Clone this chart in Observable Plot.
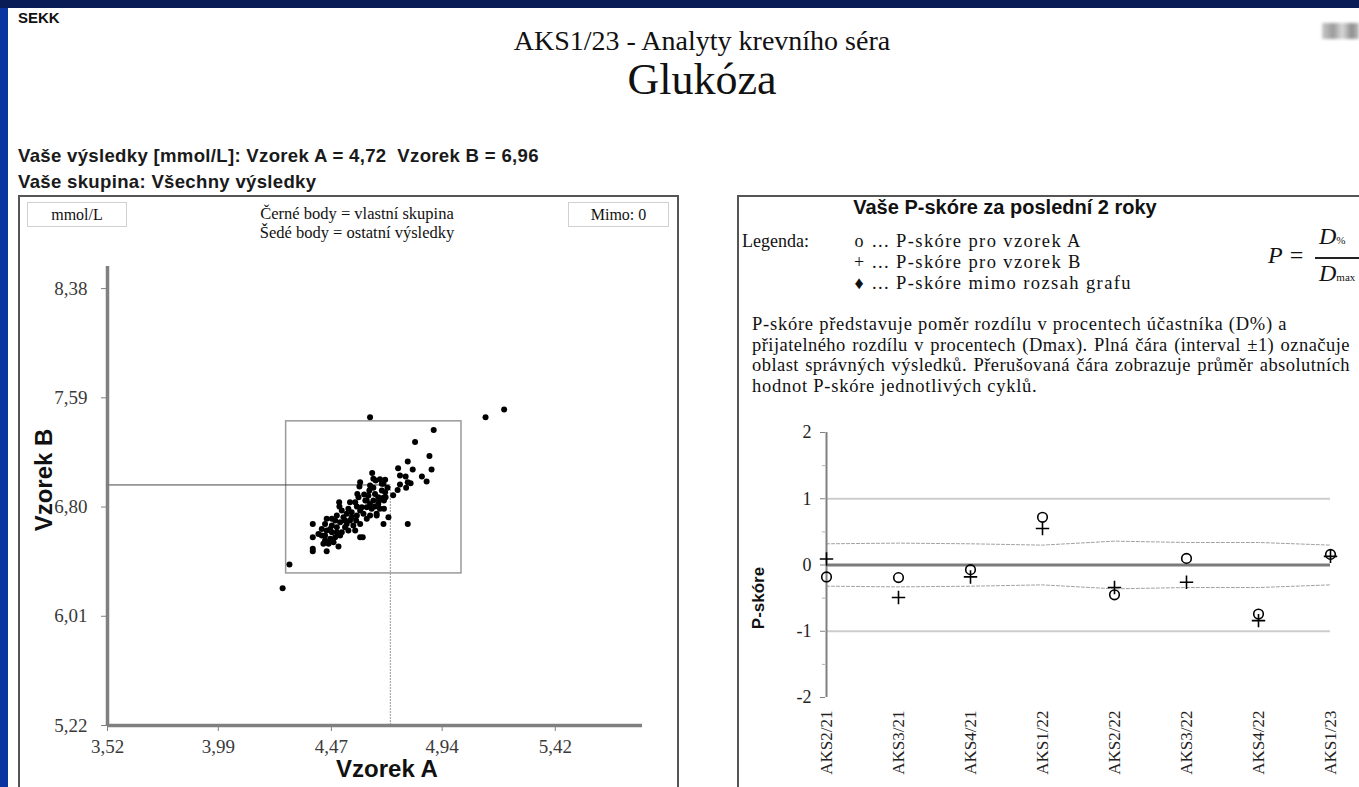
<!DOCTYPE html>
<html>
<head>
<meta charset="utf-8">
<script src="https://cdn.jsdelivr.net/npm/d3@7"></script>
<script src="https://cdn.jsdelivr.net/npm/@observablehq/plot@0.6"></script>
<style>
  html, body { margin:0; padding:0; background:#fff; }
  #page { position:relative; width:1359px; height:787px; overflow:hidden; background:#fff; color:#111; }
  .abs { position:absolute; white-space:pre; }
  .serif { font-family:"Liberation Serif","Times New Roman",serif; }
  .sans { font-family:"Liberation Sans",Arial,sans-serif; }
  .box { position:absolute; box-sizing:border-box; }
  .rp { font-size:18.5px; letter-spacing:0.75px; line-height:20.7px; }
  .jl { display:flex; justify-content:space-between; width:598px; letter-spacing:0.45px; }
  .jl span { white-space:nowrap; flex:none; }
  .lg { font-size:18.5px; letter-spacing:1.4px; line-height:21px; }
</style>
</head>
<body>
<div id="page">
  <div class="box" style="left:0;top:0;width:1359px;height:8px;background:#0a1c55;"></div>
  <div class="box" style="left:0;top:8px;width:8px;height:779px;background:#0b34a3;"></div>

  <div class="abs sans" style="left:18px;top:9px;font-size:15px;font-weight:bold;">SEKK</div>
  <div class="abs serif" style="left:0;width:1404px;top:25px;font-size:28px;text-align:center;">AKS1/23 - Analyty krevního séra</div>
  <div class="abs serif" style="left:0;width:1404px;top:54px;font-size:44px;text-align:center;">Glukóza</div>
  <div class="box" style="left:1322px;top:23px;width:37px;height:16px;background:linear-gradient(90deg,#c9c9c9,#9a9a9a 30%,#d8d8d8 55%,#8e8e8e 80%,#bdbdbd);filter:blur(1.5px);"></div>

  <div class="abs sans" id="res" style="left:18px;top:145px;font-size:18.6px;font-weight:bold;letter-spacing:0.3px;color:#1a1a1a;"></div>
  <div class="abs sans" id="grp" style="left:18px;top:171px;font-size:18.6px;font-weight:bold;letter-spacing:0.3px;color:#1a1a1a;"></div>

  <!-- left panel -->
  <div class="box" style="left:18px;top:195px;width:661px;height:620px;border:2px solid #555;"></div>
  <div class="box serif" style="left:27px;top:202px;width:100px;height:25px;border:1px solid #d0d0d0;font-size:16px;text-align:center;line-height:23px;">mmol/L</div>
  <div class="box serif" id="mimo" style="left:568px;top:202px;width:101px;height:25px;border:1px solid #d0d0d0;font-size:16px;text-align:center;line-height:23px;"></div>
  <div class="abs serif" style="left:225px;width:264px;top:204px;font-size:16.5px;text-align:center;line-height:19px;">Černé body = vlastní skupina
Šedé body = ostatní výsledky</div>
  <div id="scatter" class="box" style="left:20px;top:250px;"></div>
  <div class="abs sans" style="left:-16px;top:466px;width:120px;text-align:center;font-size:24px;font-weight:bold;transform:rotate(-90deg);">Vzorek B</div>
  <div class="abs sans" style="left:317px;top:755px;width:140px;text-align:center;font-size:24px;font-weight:bold;">Vzorek A</div>

  <!-- right panel -->
  <div class="box" style="left:737px;top:195px;width:660px;height:620px;border:2px solid #555;"></div>
  <div class="abs sans" style="left:737px;width:536px;top:196px;font-size:20px;font-weight:bold;text-align:center;">Vaše P-skóre za poslední 2 roky</div>
  <div class="abs serif" style="left:742px;top:231px;font-size:18px;line-height:21px;">Legenda:</div>
  <div class="abs serif" style="left:850px;top:231px;width:18px;text-align:center;font-size:18px;line-height:21px;">o
+
♦</div>
  <div class="abs serif lg" style="left:872px;top:231px;">... P-skóre pro vzorek A
... P-skóre pro vzorek B
... P-skóre mimo rozsah grafu</div>
  <div class="abs serif" style="left:1268px;top:242px;font-size:24px;font-style:italic;">P =</div>
  <div class="abs serif" style="left:1319px;top:223px;font-size:24px;font-style:italic;">D<span style="font-size:11px;font-style:normal;">%</span></div>
  <div class="box" style="left:1315px;top:257px;width:50px;height:1.5px;background:#222;"></div>
  <div class="abs serif" style="left:1319px;top:260px;font-size:24px;font-style:italic;">D<span style="font-size:11px;font-style:normal;">max</span></div>

  <div class="abs serif rp" style="left:752px;top:314px;">P-skóre představuje poměr rozdílu v procentech účastníka (D%) a</div>
  <div class="abs serif rp jl" id="pl2" style="left:752px;top:334.7px;"></div>
  <div class="abs serif rp jl" id="pl3" style="left:752px;top:355.4px;"></div>
  <div class="abs serif rp" style="left:752px;top:376.1px;">hodnot P-skóre jednotlivých cyklů.</div>

  <div id="pscore" class="box" style="left:740px;top:420px;"></div>
  <div class="abs sans" style="left:709px;top:588px;width:100px;text-align:center;font-size:17px;font-weight:bold;transform:rotate(-90deg);">P-skóre</div>
</div>

<script>
// ---------- data ----------
const ownA = 4.72;
const ownB = 6.96;
const outsideCount = 0;

const xTickValues = [3.52, 3.99, 4.47, 4.94, 5.42];
const yTickValues = [5.22, 6.01, 6.80, 7.59, 8.38];
const xDomain = [3.52, 5.79];
const yDomain = [5.22, 8.54];

// acceptable range rectangle (Vzorek A, Vzorek B)
const boxA = [4.278, 5.022];
const boxB = [6.32, 7.42];

// group results: Vzorek A values and Vzorek B values (paired)
const sampleA = [4.634,5.124,5.203,4.292,4.263,4.904,4.825,4.886,4.794,4.895,4.815,4.753,4.854,4.874,4.761,4.785,4.794,4.806,4.761,4.787,
4.751,4.732,4.794,4.643,4.658,4.676,4.698,4.592,4.589,4.634,4.648,4.691,4.708,4.684,4.698,4.669,4.688,4.700,4.580,4.585,
4.627,4.648,4.614,4.549,4.571,4.503,4.504,4.620,4.641,4.676,4.693,4.712,4.691,4.592,4.606,4.578,4.556,4.535,4.514,4.493,
4.472,4.450,4.443,4.472,4.507,4.528,4.549,4.575,4.592,4.620,4.634,4.662,4.391,4.391,4.391,4.391,4.429,4.450,4.472,4.493,
4.507,4.486,4.465,4.443,4.436,4.458,4.479,4.500,4.450,4.542,4.571,4.592,4.603,4.528,4.493,4.415,4.429,4.662,4.655,4.672,
4.631,4.609,4.542,4.521,4.563,4.620,4.655,4.684,4.486,4.465,4.514,4.535,4.599,4.634,4.669,4.693,4.648,4.578,4.556,4.443];
const sampleB = [7.450,7.450,7.505,6.384,6.213,7.358,7.271,7.170,7.129,7.071,7.071,7.081,7.021,6.984,7.028,7.021,6.980,6.972,6.963,6.939,
6.924,6.886,6.678,7.047,6.992,7.001,6.997,6.980,6.948,6.956,6.939,6.968,6.939,6.919,6.907,6.871,6.866,6.871,6.895,6.871,
6.883,6.847,6.847,6.835,6.835,6.835,6.804,6.799,6.787,6.787,6.787,6.727,6.678,6.775,6.751,6.739,6.763,6.751,6.775,6.739,
6.715,6.715,6.678,6.666,6.690,6.703,6.703,6.703,6.678,6.715,6.739,6.751,6.678,6.582,6.498,6.481,6.642,6.630,6.618,6.618,
6.594,6.582,6.570,6.558,6.534,6.534,6.546,6.515,6.481,6.630,6.630,6.582,6.582,6.654,6.654,6.606,6.594,6.739,6.804,6.847,
6.919,6.890,6.787,6.727,6.666,6.847,6.895,6.968,6.703,6.642,6.618,6.678,6.799,6.823,6.823,6.847,7.004,6.804,6.727,6.594];

// P-score history
const cycles = ["AKS2/21","AKS3/21","AKS4/21","AKS1/22","AKS2/22","AKS3/22","AKS4/22","AKS1/23"];
const pScoreA = [-0.18, -0.19, -0.07, 0.72, -0.45, 0.10, -0.74, 0.16];
const pScoreB = [0.09, -0.49, -0.18, 0.55, -0.34, -0.26, -0.84, 0.13];
const meanAbsP = [0.32, 0.33, 0.32, 0.30, 0.36, 0.34, 0.34, 0.30];
const pTicks = [-2, -1, 0, 1, 2];
const pMinorTicks = [-1.5, -0.5, 0.5, 1.5];

// ---------- texts ----------
const comma = v => v.toFixed(2).replace(".", ",");
document.getElementById("res").textContent = `Vaše výsledky [mmol/L]: Vzorek A = ${comma(ownA)}  Vzorek B = ${comma(ownB)}`;
document.getElementById("grp").textContent = "Vaše skupina: Všechny výsledky";
document.getElementById("mimo").textContent = `Mimo: ${outsideCount}`;
function justifyLine(id, text) {
  const el = document.getElementById(id);
  for (const w of text.split(" ")) {
    const s = document.createElement("span");
    s.textContent = w;
    el.appendChild(s);
  }
}
justifyLine("pl2", "přijatelného rozdílu v procentech (Dmax). Plná čára (interval ±1) označuje");
justifyLine("pl3", "oblast správných výsledků. Přerušovaná čára zobrazuje průměr absolutních");

// ---------- scatter ----------
const points = sampleA.map((a, i) => ({a, b: sampleB[i]}));
const own = [{a: ownA, b: ownB}];
const box = [{x1: boxA[0], x2: boxA[1], y1: boxB[0], y2: boxB[1]}];

const scatter = Plot.plot({
  width: 650, height: 537,
  marginLeft: 87, marginRight: 28, marginTop: 16, marginBottom: 62,
  x: {domain: xDomain},
  y: {domain: yDomain},
  style: {fontFamily: "Liberation Serif, serif", fontSize: "19px", color: "#3a3a3a", background: "transparent", overflow: "visible"},
  marks: [
    Plot.axisX({ticks: xTickValues, tickFormat: comma, tickSize: 6, tickPadding: 8, label: null, stroke: "#808080"}),
    Plot.axisY({ticks: yTickValues, tickFormat: comma, tickSize: 6, tickPadding: 14, label: null, stroke: "#808080"}),
    Plot.rect(box, {x1: "x1", x2: "x2", y1: "y1", y2: "y2", fill: "none", stroke: "#9a9a9a", strokeWidth: 1.5}),
    Plot.ruleY(own, {y: "b", x1: () => xDomain[0], x2: "a", stroke: "#444", strokeWidth: 1}),
    Plot.ruleX(own, {x: "a", y1: () => yDomain[0], y2: "b", stroke: "#999", strokeWidth: 1, strokeDasharray: "2,1"}),
    Plot.dot(points, {x: "a", y: "b", r: 3, fill: "#000", stroke: "none"}),
    Plot.ruleX([xDomain[0]], {stroke: "#808080", strokeWidth: 3.5}),
    Plot.ruleY([yDomain[0]], {stroke: "#808080", strokeWidth: 3.5})
  ]
});
document.getElementById("scatter").appendChild(scatter);

// ---------- P-score ----------
const pdata = cycles.map((c, i) => ({cycle: c, a: pScoreA[i], b: pScoreB[i], m: meanAbsP[i]}));
const first = () => cycles[0];
const last = () => cycles[cycles.length - 1];

const pchart = Plot.plot({
  width: 619, height: 367,
  marginLeft: 85, marginRight: 29, marginTop: 12, marginBottom: 90,
  x: {type: "point", domain: cycles, padding: 0},
  y: {domain: [-2, 2]},
  style: {fontFamily: "Liberation Serif, serif", fontSize: "18px", color: "#222", background: "transparent", overflow: "visible"},
  marks: [
    Plot.ruleY([1, -1], {x1: first, x2: last, stroke: "#cdcdcd", strokeWidth: 2}),
    Plot.line(pdata, {x: "cycle", y: "m", stroke: "#a0a0a0", strokeWidth: 1, strokeDasharray: "3,2"}),
    Plot.line(pdata, {x: "cycle", y: d => -d.m, stroke: "#a0a0a0", strokeWidth: 1, strokeDasharray: "3,2"}),
    Plot.ruleY([0], {x1: first, x2: last, stroke: "#7a7a7a", strokeWidth: 3}),
    Plot.ruleX([cycles[0]], {y1: -2, y2: 2, stroke: "#808080", strokeWidth: 2}),
    Plot.axisY({ticks: pTicks, tickFormat: d => String(d), tickSize: 5, tickPadding: 9, label: null, stroke: "#808080"}),
    Plot.axisY({ticks: pMinorTicks, tickFormat: () => "", tickSize: 3, label: null, stroke: "#b0b0b0"}),
    Plot.axisX({tickRotate: -90, tickSize: 0, tickPadding: 13, label: null, fontSize: 17}),
    Plot.dot(pdata, {x: "cycle", y: "b", symbol: "plus", r: 4.4, stroke: "#000", strokeWidth: 1.6}),
    Plot.dot(pdata, {x: "cycle", y: "a", r: 4.8, stroke: "#000", strokeWidth: 1.6, fill: "none"})
  ]
});
document.getElementById("pscore").appendChild(pchart);
</script>
</body>
</html>
